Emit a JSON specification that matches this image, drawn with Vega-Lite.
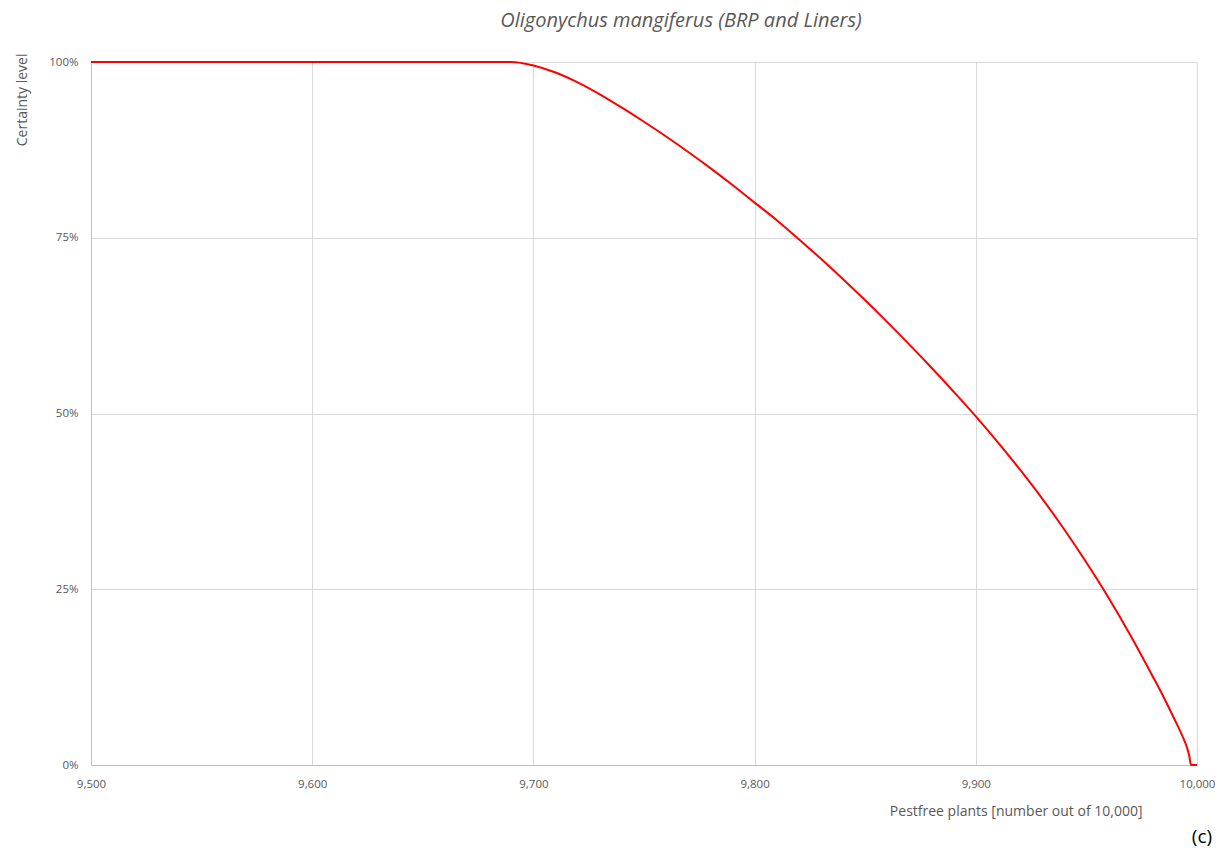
{
  "$schema": "https://vega.github.io/schema/vega-lite/v6.json",
  "width": 1106,
  "height": 703,
  "autosize": {"type": "none"},
  "padding": {"left": 91, "top": 62, "right": 23, "bottom": 85},
  "background": "white",
  "config": {
    "view": {"stroke": null},
    "font": "Open Sans",
    "axis": {"labelColor": "#595959", "titleColor": "#595959", "labelFont": "Open Sans", "titleFont": "Open Sans", "titleFontWeight": "normal", "labelFontSize": 11.5, "titleFontSize": 14, "gridColor": "#d9d9d9", "domainColor": "#bfbfbf", "ticks": false, "labelFlush": false}
  },
  "title": {"text": "Oligonychus mangiferus (BRP and Liners)", "fontSize": 20, "fontStyle": "italic", "fontWeight": "normal", "color": "#595959", "font": "Open Sans", "anchor": "middle", "dx": 37, "offset": 22},
  "datasets": {
    "curve": [
      {"plants": 9500, "certainty": 1.0},
      {"plants": 9600, "certainty": 1.0},
      {"plants": 9690, "certainty": 1.0},
      {"plants": 9700, "certainty": 0.995},
      {"plants": 9710, "certainty": 0.985},
      {"plants": 9720, "certainty": 0.971},
      {"plants": 9730, "certainty": 0.954},
      {"plants": 9740, "certainty": 0.935},
      {"plants": 9750, "certainty": 0.915},
      {"plants": 9760, "certainty": 0.894},
      {"plants": 9770, "certainty": 0.872},
      {"plants": 9780, "certainty": 0.849},
      {"plants": 9790, "certainty": 0.825},
      {"plants": 9800, "certainty": 0.800},
      {"plants": 9810, "certainty": 0.775},
      {"plants": 9820, "certainty": 0.748},
      {"plants": 9830, "certainty": 0.720},
      {"plants": 9840, "certainty": 0.691},
      {"plants": 9850, "certainty": 0.661},
      {"plants": 9860, "certainty": 0.630},
      {"plants": 9870, "certainty": 0.598},
      {"plants": 9880, "certainty": 0.565},
      {"plants": 9890, "certainty": 0.531},
      {"plants": 9900, "certainty": 0.496},
      {"plants": 9910, "certainty": 0.459},
      {"plants": 9920, "certainty": 0.420},
      {"plants": 9930, "certainty": 0.379},
      {"plants": 9940, "certainty": 0.335},
      {"plants": 9950, "certainty": 0.288},
      {"plants": 9960, "certainty": 0.238},
      {"plants": 9970, "certainty": 0.184},
      {"plants": 9980, "certainty": 0.126},
      {"plants": 9985, "certainty": 0.096},
      {"plants": 9990, "certainty": 0.064},
      {"plants": 9993, "certainty": 0.044},
      {"plants": 9995, "certainty": 0.029},
      {"plants": 9996.5, "certainty": 0.013},
      {"plants": 9997.3, "certainty": 0.0},
      {"plants": 10000, "certainty": 0.0}
    ],
    "note": [{"plants": 10000, "certainty": 0, "label": "(c)"}]
  },
  "layer": [
    {
      "data": {"name": "curve"},
      "mark": {"type": "line", "color": "#ff0000", "strokeWidth": 2, "interpolate": "monotone"},
      "encoding": {
        "x": {"field": "plants", "type": "quantitative", "scale": {"domain": [9500, 10000], "nice": false, "zero": false},
          "axis": {"values": [9500, 9600, 9700, 9800, 9900, 10000], "format": ",d", "labelPadding": 13, "title": "Pestfree plants [number out of 10,000]", "titleAnchor": "end", "titleAlign": "right", "titleX": 1051, "titleY": 50, "titleBaseline": "alphabetic"}},
        "y": {"field": "certainty", "type": "quantitative", "scale": {"domain": [0, 1], "nice": false},
          "axis": {"values": [0, 0.25, 0.5, 0.75, 1], "format": ".0%", "labelPadding": 13, "title": "Certainty level", "titleAngle": 270, "titleAlign": "right", "titleBaseline": "middle", "titleX": -69, "titleY": -9}}
      }
    },
    {
      "data": {"name": "note"},
      "mark": {"type": "text", "fontSize": 19, "font": "Open Sans", "color": "#000000", "dx": 5, "dy": 72, "align": "center", "clip": false},
      "encoding": {
        "x": {"field": "plants", "type": "quantitative"},
        "y": {"field": "certainty", "type": "quantitative"},
        "text": {"field": "label"}
      }
    }
  ]
}
